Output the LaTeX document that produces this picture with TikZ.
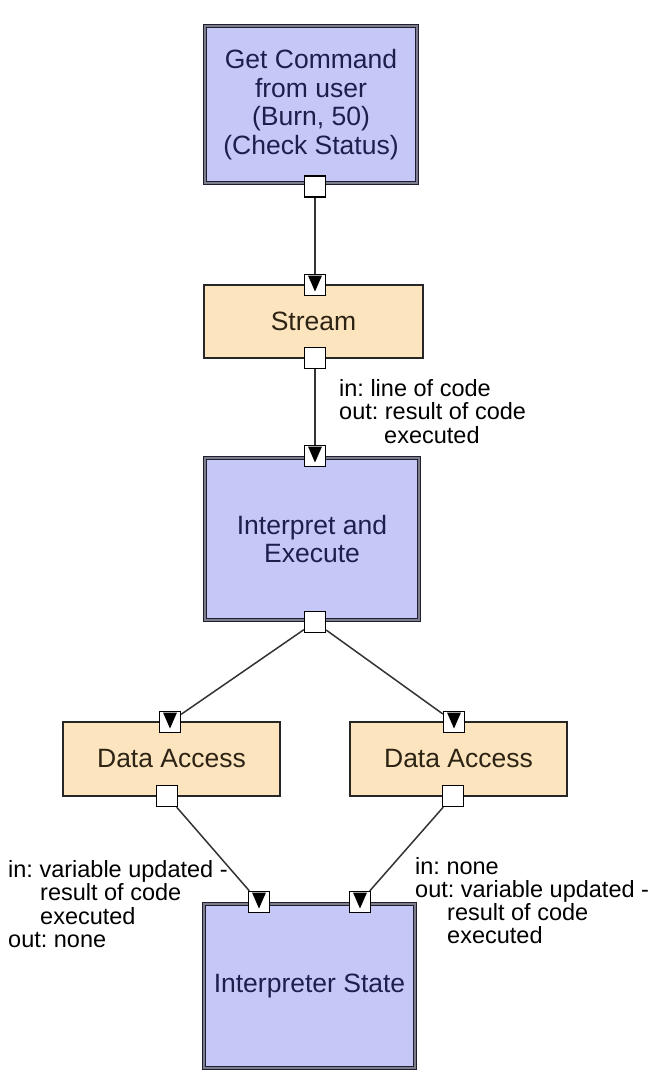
\documentclass[tikz,border=0pt]{standalone}
\usepackage{fontspec}
\setmainfont{Liberation Sans}
\definecolor{boxblue}{RGB}{197,200,246}
\definecolor{boxtan}{RGB}{252,228,190}
\definecolor{boxdark}{RGB}{30,30,48}
\definecolor{boxgray}{RGB}{125,125,140}
\definecolor{bluetext}{RGB}{30,30,75}
\definecolor{tantext}{RGB}{45,35,20}
\begin{document}
\frenchspacing
\begin{tikzpicture}[x=1pt,y=-1pt,
  bluebox/.style={draw=boxdark, line width=1.3pt, double=boxgray, double distance=1.5pt,
    fill=boxblue, inner sep=0pt, align=center, text=bluetext,
    font=\fontsize{26.5}{28.5}\selectfont},
  tanbox/.style={draw=black!85, line width=1.5pt, fill=boxtan, inner sep=0pt,
    align=center, text=tantext, font=\fontsize{26.5}{28.5}\selectfont},
  port/.style={draw=black, line width=1.3pt, fill=white, minimum size=21pt, inner sep=0pt},
  inport/.style={port, path picture={
    \fill[black] ([xshift=-7pt,yshift=-1pt]path picture bounding box.north)
      -- ([xshift=7pt,yshift=-1pt]path picture bounding box.north)
      -- ([yshift=-17pt]path picture bounding box.north) -- cycle;}},
  conn/.style={draw=black!80, line width=1.5pt},
  lbl/.style={anchor=base west, inner sep=0pt, font=\fontsize{23.5}{23.5}\selectfont}]

\fill[white] (0,0) rectangle (664,1090);
\useasboundingbox (0,0) rectangle (664,1090);

% boxes
\node[bluebox, minimum width=212pt, minimum height=157pt] (gc) at (311,104.5)
  {Get Command\\from user\\(Burn, 50)\\(Check Status)};
\node[tanbox, minimum width=219pt, minimum height=73pt] (st) at (313.5,321.5) {Stream};
\node[bluebox, minimum width=214pt, minimum height=162pt] (ie) at (312,539)
  {Interpret and\\Execute};
\node[tanbox, minimum width=217pt, minimum height=74pt] (dl) at (171.5,759) {Data Access};
\node[tanbox, minimum width=217pt, minimum height=74pt] (dr) at (458.5,759) {Data Access};
\node[bluebox, minimum width=211pt, minimum height=164pt] (is) at (309.5,986)
  {Interpreter State};

% ports
\node[port] (gcout) at (315,186.5) {};
\node[inport] (stin) at (315,285) {};
\node[port] (stout) at (315,358) {};
\node[inport] (iein) at (315,456) {};
\node[port] (ieout) at (315,622) {};
\node[inport] (dlin) at (170,722) {};
\node[port] (dlout) at (167,796) {};
\node[inport] (drin) at (454,722) {};
\node[port] (drout) at (453,796) {};
\node[inport] (isinl) at (259,902) {};
\node[inport] (isinr) at (360,902) {};

% connectors
\draw[conn] (gcout) -- (stin);
\draw[conn] (stout) -- (iein);
\draw[conn] (ieout) -- (dlin);
\draw[conn] (ieout) -- (drin);
\draw[conn] (dlout) -- (isinl);
\draw[conn] (drout) -- (isinr);

% labels
\node[lbl] (s1) at (339,396) {in: line of code};
\node[lbl] (s2) at (339,419.5) {out: result of code};
\node[lbl] (s3) at (384,443) {executed};

\node[lbl] (l1) at (8,877) {in: variable updated -};
\node[lbl] (l2) at (40,900.5) {result of code};
\node[lbl] (l3) at (40,924) {executed};
\node[lbl] (l4) at (8,947.5) {out: none};

\node[lbl] (r1) at (415,874) {in: none};
\node[lbl] (r2) at (415,897) {out: variable updated -};
\node[lbl] (r3) at (447,920) {result of code};
\node[lbl] (r4) at (447,943) {executed};
\end{tikzpicture}
\end{document}
